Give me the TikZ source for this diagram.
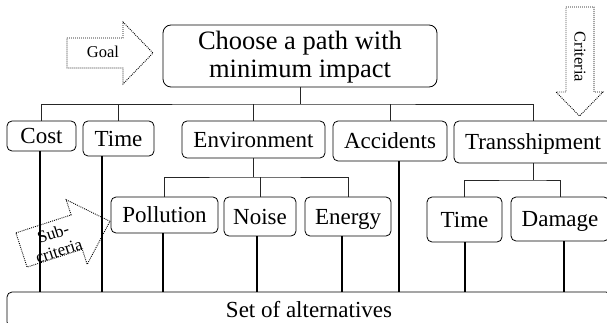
\documentclass[tikz,border=0pt]{standalone}
\usepackage{fontspec}
\setmainfont{Liberation Serif}
\begin{document}
\begin{tikzpicture}[x=1pt,y=-1pt,
  box/.style={draw=black, line width=0.8pt, rounded corners=5pt, inner sep=0pt,
    font=\fontsize{23}{25}\selectfont, text height=15.2pt, text depth=0pt},
  bus/.style={draw=black!85, line width=0.8pt},
  vline/.style={draw=black, line width=1.6pt},
  dotarrow/.style={draw=black, line width=0.9pt, dash pattern=on 0.9pt off 1.1pt},
  small/.style={font=\fontsize{16.5}{18}\selectfont, align=center, inner sep=0pt}]
\useasboundingbox (0,0) rectangle (607,323);
\clip (0,0) rectangle (607,323);

% goal
\node[draw=black, line width=0.8pt, rounded corners=8pt, inner sep=0pt,
  minimum width=274pt, minimum height=62pt] (main) at (300,56) {};
\node[align=center, inner sep=0pt, anchor=base,
  font=\fontsize{26.5}{28}\selectfont] (maintext) at (300,78) {Choose a path with\\minimum impact};

% criteria
\node[box, minimum width=69pt, minimum height=30pt] (cost) at (41.5,136) {Cost};
\node[box, minimum width=71pt, minimum height=35pt] (time) at (118.5,138.5) {Time};
\node[box, minimum width=143pt, minimum height=37pt] (env) at (253.5,139.5) {Environment};
\node[box, minimum width=114pt, minimum height=40pt] (acc) at (390,141) {Accidents};
\node[box, minimum width=158pt, minimum height=42pt] (trans) at (533,142) {Transshipment};

% sub-criteria
\node[box, minimum width=107pt, minimum height=36pt] (poll) at (164.5,215) {Pollution};
\node[box, minimum width=72pt, minimum height=39pt] (noise) at (260,216.5) {Noise};
\node[box, minimum width=86pt, minimum height=39pt] (energy) at (348,216.5) {Energy};
\node[box, minimum width=75pt, minimum height=45pt] (time2) at (464.5,219.5) {Time};
\node[box, minimum width=98pt, minimum height=44pt] (damage) at (560,219) {Damage};

% alternatives
\node[box, minimum width=604pt, minimum height=35pt] (bar) at (309,309.5) {Set of alternatives};

% buses
\coordinate (hub) at (300,104);
\draw[bus] (main.south) -- (hub);
\draw[bus] (cost.north) |- (hub) -| (trans.north);
\draw[bus] (time.north) -- (time.north |- hub);
\draw[bus] (env.north) -- (env.north |- hub);
\draw[bus] (acc.north) -- (acc.north |- hub);

\coordinate (ehub) at (253.5,177);
\draw[bus] (env.south) -- (ehub);
\draw[bus] (poll.north) |- (ehub) -| (energy.north);
\draw[bus] (noise.north) -- (noise.north |- ehub);

\coordinate (thub) at (533,180);
\draw[bus] (trans.south) -- (thub);
\draw[bus] (time2.north) |- (thub) -| (damage.north);

% lines to alternatives
\draw[vline] ([xshift=-1.5pt]cost.south) -- ([xshift=-1.5pt]cost.south |- bar.north);
\draw[vline] ([xshift=-16.5pt]time.south) -- ([xshift=-16.5pt]time.south |- bar.north);
\draw[vline] ([xshift=9pt]acc.south) -- ([xshift=9pt]acc.south |- bar.north);
\draw[vline] ([xshift=-1.5pt]poll.south) -- ([xshift=-1.5pt]poll.south |- bar.north);
\draw[vline] ([xshift=-3pt]noise.south) -- ([xshift=-3pt]noise.south |- bar.north);
\draw[vline] ([xshift=-6pt]energy.south) -- ([xshift=-6pt]energy.south |- bar.north);
\draw[vline] ([xshift=0.5pt]time2.south) -- ([xshift=0.5pt]time2.south |- bar.north);
\draw[vline] ([xshift=4pt]damage.south) -- ([xshift=4pt]damage.south |- bar.north);

% Goal arrow
\draw[dotarrow] (67,38) -- (123,38) -- (123,22) -- (153,53) -- (123,84) -- (123,68) -- (67,68) -- cycle;
\node[small] (goal) at (103,52) {Goal};

% Criteria arrow
\draw[dotarrow] (566,7) -- (594,7) -- (594,92) -- (603,92) -- (579.5,116) -- (556,92) -- (566,92) -- cycle;
\node[small, rotate=-90] (crit) at (580,57) {Criteria};

% Sub-criteria arrow
\begin{scope}[shift={(21.5,250)}, rotate=18]
  \draw[dotarrow] (0,-18) -- (58,-18) -- (58,-34) -- (93,0) -- (58,34) -- (58,18) -- (0,18) -- cycle;
\end{scope}
\node[small, rotate=18, font=\fontsize{17}{18.5}\selectfont] (subc) at (56,242) {Sub-\\criteria};
\end{tikzpicture}
\end{document}
